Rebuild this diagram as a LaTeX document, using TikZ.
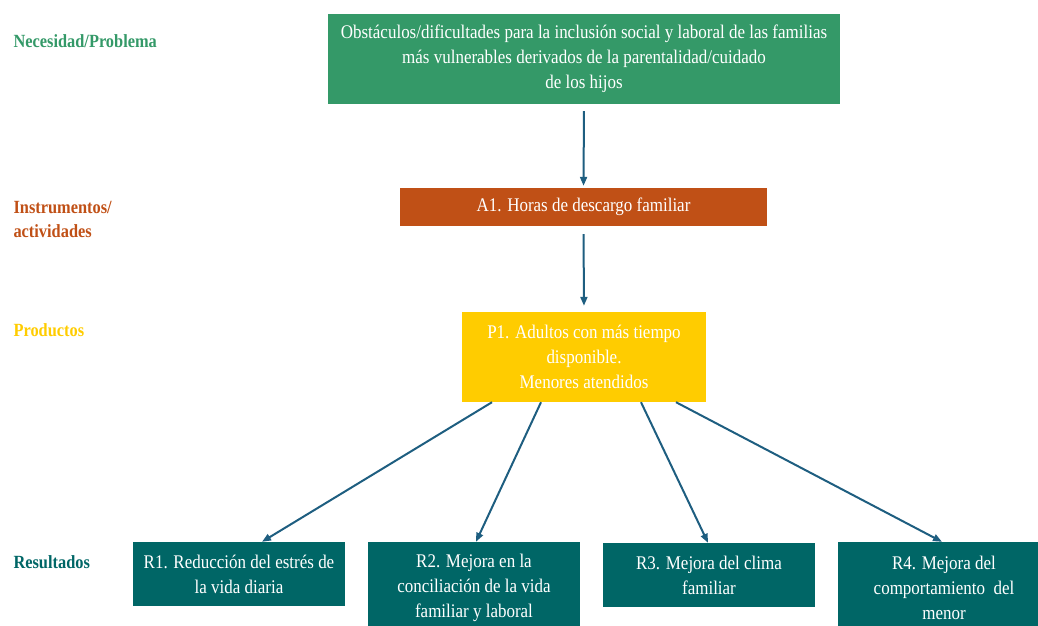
\documentclass[tikz,border=0pt]{standalone}
\usepackage{fontspec}
\setmainfont{Liberation Serif}[FakeStretch=0.88]
\usetikzlibrary{arrows.meta, positioning}

\definecolor{probgreen}{RGB}{52,153,104}
\definecolor{actorange}{RGB}{192,80,22}
\definecolor{prodyellow}{RGB}{255,204,0}
\definecolor{resteal}{RGB}{0,102,102}
\definecolor{arrowblue}{RGB}{30,94,128}

\begin{document}
\begin{tikzpicture}[x=1pt, y=-1pt,
        level_label/.style={font=\fontsize{18.6}{24}\selectfont\bfseries, anchor=west, align=left},
        box/.style={rectangle, text=white, align=center, inner sep=0pt,
            font=\fontsize{19.3}{25}\selectfont},
        link/.style={-{Triangle[length=9pt, width=7pt]}, draw=arrowblue, line width=2pt}]

        \useasboundingbox (0,0) rectangle (1038,626);

        % Boxes of the chain
        \node[box, fill=probgreen, minimum width=512pt, minimum height=90pt] (prob) at (584,59)
            {Obstáculos/dificultades para la inclusión social y laboral de las familias\\más vulnerables derivados de la parentalidad/cuidado\\de los hijos};
        \node[box, fill=actorange, minimum width=367pt, minimum height=38pt] (act) at (583.5,207)
            {A1. Horas de descargo familiar};
        \node[box, fill=prodyellow, minimum width=244pt, minimum height=90pt] (prod) at (584,357)
            {P1. Adultos con más tiempo\\disponible.\\Menores atendidos};

        % Results
        \node[box, fill=resteal, minimum width=212pt, minimum height=64pt] (r1) at (239,574)
            {R1. Reducción del estrés de\\la vida diaria};
        \node[box, fill=resteal, minimum width=212pt, minimum height=92pt] (r2) at (474,588)
            {R2. Mejora en la\\conciliación de la vida\\familiar y laboral};
        \node[box, fill=resteal, minimum width=212pt, minimum height=64pt] (r3) at (709,575)
            {R3. Mejora del clima\\familiar};
        \node[box, fill=resteal, minimum width=212pt, minimum height=92pt] (r4) at (944,588)
            {R4. Mejora del\\comportamiento\ \ del\\menor};

        % Level labels
        \node[level_label, text=probgreen] (need_label) at (10,41) {Necesidad/Problema};
        \node[level_label, text=actorange] (act_label) at (10,219) {Instrumentos/\\actividades};
        \node[level_label, text=prodyellow] (prod_label) at (10,330) {Productos};
        \node[level_label, text=resteal] (res_label) at (10,562) {Resultados};

        % Arrows
        \draw[link, shorten <=7pt, shorten >=2pt] (prob.south) -- (act.north);
        \draw[link, shorten <=8pt, shorten >=6pt] (act.south) -- (prod.north);
        \draw[link] ([xshift=-92pt]prod.south) -- ([xshift=23pt]r1.north);
        \draw[link] ([xshift=-43pt]prod.south) -- ([xshift=2pt]r2.north);
        \draw[link] ([xshift=57pt]prod.south) -- ([xshift=-1pt]r3.north);
        \draw[link] ([xshift=92pt]prod.south) -- ([xshift=-2pt]r4.north);
\end{tikzpicture}
\end{document}
